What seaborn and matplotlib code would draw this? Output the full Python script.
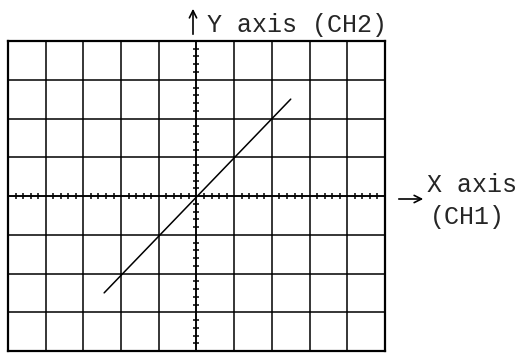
import seaborn as sns
import matplotlib.pyplot as plt
import numpy as np
import pandas as pd
from matplotlib.ticker import MultipleLocator

# -----------------------------
# DATA (graticule divisions + XY trace)
# -----------------------------
x_divs = np.arange(-5, 6)        # 10 horizontal divisions
y_divs = np.arange(-4, 5)        # 8 vertical divisions
trace_x = [-2.45, 2.5]           # CH1
trace_y = [-2.5, 2.5]            # CH2

df = pd.DataFrame({"x": trace_x, "y": trace_y})

sns.set_style("white")
plt.rcParams['font.family'] = ['Liberation Mono', 'DejaVu Sans Mono']

fig = plt.figure(figsize=(5.27, 3.54), dpi=100)
pos = [8 / 527, 3 / 354, 377 / 527, 310 / 354]
ax = fig.add_axes(pos)

# screen graticule
ax.set_xlim(x_divs[0], x_divs[-1])
ax.set_ylim(y_divs[0], y_divs[-1])
ax.set_xticks(x_divs)
ax.set_yticks(y_divs)
ax.set_xticklabels([])
ax.set_yticklabels([])
ax.tick_params(length=0)
ax.grid(True, color="black", linewidth=1.1)
for s in ax.spines.values():
    s.set_visible(True)
    s.set_color("black")
    s.set_linewidth(1.6)

# trace
sns.lineplot(data=df, x="x", y="y", ax=ax, color="black", linewidth=1.1,
             sort=False, legend=False)
ax.set_xlabel("")
ax.set_ylabel("")

# center axes with minor subdivision ticks
ax2 = fig.add_axes(pos, facecolor="none")
ax2.set_xlim(ax.get_xlim())
ax2.set_ylim(ax.get_ylim())
ax2.spines["left"].set_position(("data", 0))
ax2.spines["bottom"].set_position(("data", 0))
ax2.spines["top"].set_visible(False)
ax2.spines["right"].set_visible(False)
for s in ("left", "bottom"):
    ax2.spines[s].set_linewidth(1.1)
    ax2.spines[s].set_color("black")
ax2.set_xticks(x_divs)
ax2.set_yticks(y_divs)
ax2.set_xticklabels([])
ax2.set_yticklabels([])
ax2.xaxis.set_minor_locator(MultipleLocator(0.2))
ax2.yaxis.set_minor_locator(MultipleLocator(0.2))
ax2.tick_params(which="both", bottom=True, left=True, top=False, right=False)
ax2.tick_params(which="major", length=0)
ax2.tick_params(which="minor", direction="inout", length=4.5, width=1.1, color="black")

# axis labels with arrows
fig.text(207, 329, "Y axis (CH2)", transform=None, fontsize=18,
         va="center", ha="left")
fig.text(427, 169, "X axis", transform=None, fontsize=18,
         va="center", ha="left")
fig.text(430, 137, "(CH1)", transform=None, fontsize=18,
         va="center", ha="left")
arrow = dict(arrowstyle="->", color="black", lw=1.2, mutation_scale=13)
ax.annotate("", xy=(193, 348), xytext=(193, 317), xycoords="figure pixels",
            textcoords="figure pixels", arrowprops=arrow, annotation_clip=False)
ax.annotate("", xy=(426, 155), xytext=(396, 155), xycoords="figure pixels",
            textcoords="figure pixels", arrowprops=arrow, annotation_clip=False)

plt.savefig("out.png", dpi=100)
